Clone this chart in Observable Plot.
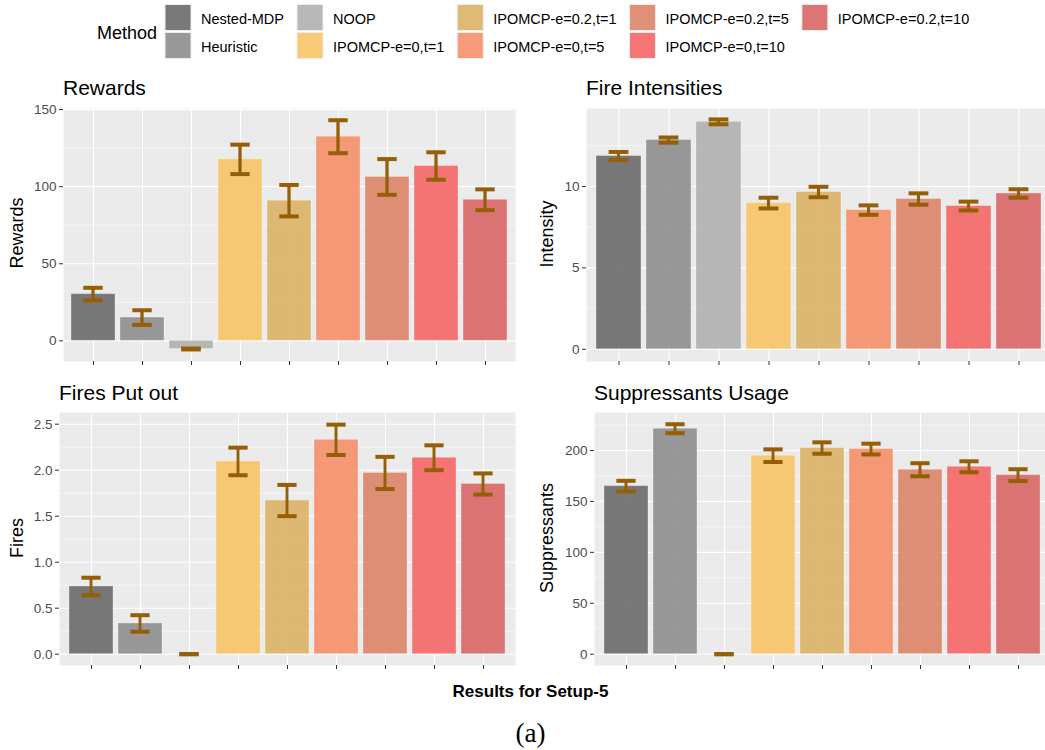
<!DOCTYPE html>
<html><head><meta charset="utf-8">
<script src="https://cdn.jsdelivr.net/npm/d3@7"></script>
<script src="https://cdn.jsdelivr.net/npm/@observablehq/plot@0.6"></script>
<style>
body{margin:0;background:#fff;overflow:hidden}
#wrap{position:relative;width:1045px;height:750px;overflow:hidden;font-family:"Liberation Sans",Arial,sans-serif}
.pan{position:absolute}
#overlay{position:absolute;left:0;top:0;pointer-events:none}
</style></head><body><div id="wrap"></div>
<script>
// ---------- data ----------
const methods = ["Nested-MDP","Heuristic","NOOP","IPOMCP-e=0,t=1","IPOMCP-e=0.2,t=1","IPOMCP-e=0,t=5","IPOMCP-e=0.2,t=5","IPOMCP-e=0,t=10","IPOMCP-e=0.2,t=10"];
const colors  = ["#6A6A6A","#8E8E8E","#B0B0B0","#F7C467","#DAB266","#F68F69","#DB8467","#F56767","#DA6666"];

const rewardsMean = [30.3, 15.1, -5.3, 117.7, 90.9, 132.4, 106.3, 113.4, 91.5];
const rewardsErr  = [4.1, 4.75, 0.3, 9.55, 10.2, 10.7, 11.6, 8.9, 6.75];
const rewardsTicks = [0, 50, 100, 150];
const rewardsMinor = [25, 75, 125];

const intensityMean = [11.87, 12.85, 13.97, 8.98, 9.66, 8.55, 9.23, 8.80, 9.57];
const intensityErr  = [0.25, 0.16, 0.15, 0.33, 0.32, 0.29, 0.35, 0.27, 0.26];
const intensityTicks = [0, 5, 10];
const intensityMinor = [2.5, 7.5, 12.5];

const firesMean = [0.736, 0.334, 0, 2.095, 1.67, 2.33, 1.97, 2.135, 1.85];
const firesErr  = [0.095, 0.09, 0, 0.15, 0.17, 0.165, 0.175, 0.135, 0.115];
const firesTicks = [0, 0.5, 1.0, 1.5, 2.0, 2.5];
const firesMinor = [0.25, 0.75, 1.25, 1.75, 2.25];

const suppMean = [165, 221.4, 0, 194.9, 202.4, 201.4, 181.1, 184, 175.8];
const suppErr  = [5.2, 4.4, 0, 6.2, 5.6, 5.3, 6.4, 5.4, 5.8];
const suppTicks = [0, 50, 100, 150, 200];
const suppMinor = [25, 75, 125, 175, 225];

const panelTitles = ["Rewards", "Fire Intensities", "Fires Put out", "Suppressants Usage"];
const yTitles = ["Rewards", "Intensity", "Fires", "Suppressants"];
const legendTitle = "Method";
const xTitle = "Results for Setup-5";
const caption = "(a)";

// ---------- rendering ----------
const wrap = document.getElementById("wrap");
const errColor = "#955F08";
const FONT = '"Liberation Sans", Arial, sans-serif';

function panel(cfg) {
  const {left, top, mL, plotW, plotH, domain, ticks, minor, means, errs, fmt} = cfg;
  const mT = 2, mB = 10, mR = 2;
  const data = methods.map((m, i) => ({method: m, mean: means[i], lo: means[i] - errs[i], hi: means[i] + errs[i], color: colors[i]}));
  const step = plotW / (methods.length - 0.1 + 0.3);
  const bw = 0.9 * step;
  const stemW = 3.5;
  const stemInset = (bw - stemW) / 2;
  const capInset = (bw - 0.4 * step) / 2;
  const chart = Plot.plot({
    width: mL + plotW + mR,
    height: mT + plotH + mB,
    marginLeft: mL, marginRight: mR, marginTop: mT, marginBottom: mB,
    style: {background: "transparent", fontFamily: FONT, overflow: "visible"},
    x: {domain: methods, paddingInner: 0.1, paddingOuter: 0.15, align: 0.5},
    y: {domain},
    color: {type: "identity"},
    marks: [
      Plot.frame({fill: "#EBEBEB", stroke: "none"}),
      Plot.ruleY(minor, {stroke: "white", strokeWidth: 0.55}),
      Plot.gridY(ticks, {stroke: "white", strokeOpacity: 1, strokeWidth: 1.1}),
      Plot.gridX({stroke: "white", strokeOpacity: 1, strokeWidth: 1.1}),
      Plot.barY(data, {x: "method", y1: 0, y2: "mean", fill: "color", fillOpacity: 0.9, stroke: "white", strokeOpacity: 0.3, strokeWidth: 1}),
      Plot.barY(data, {x: "method", y1: "lo", y2: "hi", fill: errColor, insetLeft: stemInset, insetRight: stemInset}),
      Plot.tickY(data, {x: "method", y: "lo", stroke: errColor, strokeWidth: 4, insetLeft: capInset, insetRight: capInset}),
      Plot.tickY(data, {x: "method", y: "hi", stroke: errColor, strokeWidth: 4, insetLeft: capInset, insetRight: capInset}),
      Plot.axisY({ticks, tickSize: 4, tickPadding: 3, fontSize: 13.5, fill: "#4D4D4D", stroke: "#333333", tickFormat: fmt, label: null}),
      Plot.axisX({tickSize: 4, tickFormat: () => "", stroke: "#333333", label: null})
    ]
  });
  chart.classList.add("pan");
  chart.style.left = left + "px";
  chart.style.top = (top) + "px";
  chart.style.maxWidth = "none";
  wrap.appendChild(chart);
}

panel({left: 0, top: 106, mL: 63, plotW: 452, plotH: 253, domain: [-13.4, 150.7], ticks: rewardsTicks, minor: rewardsMinor, means: rewardsMean, errs: rewardsErr, fmt: d3.format("d")});
panel({left: 520, top: 106, mL: 66, plotW: 464, plotH: 253, domain: [-0.75, 14.79], ticks: intensityTicks, minor: intensityMinor, means: intensityMean, errs: intensityErr, fmt: d3.format("d")});
panel({left: 0, top: 410, mL: 59, plotW: 456, plotH: 253, domain: [-0.123, 2.627], ticks: firesTicks, minor: firesMinor, means: firesMean, errs: firesErr, fmt: d3.format(".1f")});
panel({left: 520, top: 410, mL: 74, plotW: 456, plotH: 253, domain: [-11.1, 237.3], ticks: suppTicks, minor: suppMinor, means: suppMean, errs: suppErr, fmt: d3.format("d")});

// ---------- overlay texts & legend ----------
const svg = d3.select(wrap).append("svg").attr("id", "overlay").attr("width", 1045).attr("height", 750)
  .style("font-family", FONT);

const titlePos = [[63, 95], [586, 95], [59, 400], [594, 400]];
panelTitles.forEach((t, i) => {
  svg.append("text").attr("x", titlePos[i][0]).attr("y", titlePos[i][1]).attr("font-size", 21).attr("fill", "#000").text(t);
});
const yPos = [[23, 233], [553, 234], [23, 538], [553, 538]];
yTitles.forEach((t, i) => {
  svg.append("text").attr("transform", `translate(${yPos[i][0]},${yPos[i][1]}) rotate(-90)`)
    .attr("text-anchor", "middle").attr("font-size", 18).attr("fill", "#000").text(t);
});
svg.append("text").attr("x", 530.5).attr("y", 697).attr("text-anchor", "middle").attr("font-size", 17)
  .attr("font-weight", "bold").attr("fill", "#000").text(xTitle);
svg.append("text").attr("x", 530.5).attr("y", 742).attr("text-anchor", "middle").attr("font-size", 27)
  .attr("font-family", '"Liberation Serif", "DejaVu Serif", serif').attr("fill", "#000").text(caption);

// legend
svg.append("text").attr("x", 97).attr("y", 39).attr("font-size", 18).attr("fill", "#000").text(legendTitle);
const rows = 2, sw = 26, rowY = [4.5, 32.5];
let colX = 165;
for (let c = 0; c * rows < methods.length; c++) {
  let maxW = 0;
  for (let r = 0; r < rows; r++) {
    const i = c * rows + r;
    if (i >= methods.length) break;
    svg.append("rect").attr("x", colX).attr("y", rowY[r]).attr("width", sw).attr("height", sw)
      .attr("fill", colors[i]).attr("fill-opacity", 0.9).attr("stroke", "#EDEDED").attr("stroke-width", 1);
    const t = svg.append("text").attr("x", colX + 36).attr("y", rowY[r] + 19).attr("font-size", 14.5).attr("fill", "#000").text(methods[i]);
    maxW = Math.max(maxW, t.node().getComputedTextLength());
  }
  colX += 36 + maxW + 13;
}
</script></body></html>
